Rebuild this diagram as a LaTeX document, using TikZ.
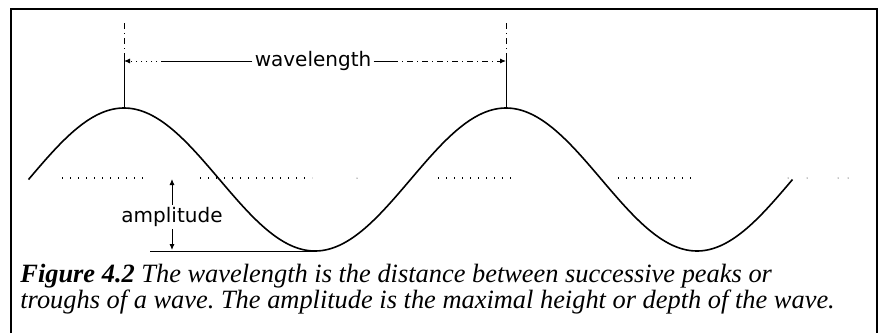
\documentclass[tikz,border=0pt]{standalone}
\usepackage{fontspec}
\setmainfont{Liberation Serif}
\newfontfamily\labelfont{DejaVu Sans}
\usetikzlibrary{arrows.meta}
\tikzset{
  wave/.style={line width=0.8pt},
  tick/.style={line width=0.5pt},
  guide/.style={line width=0.6pt, dash pattern=on 0.6pt off 3.4pt},
  dimtip/.style={-{Latex[length=3pt,width=2.6pt]}, line width=0.5pt},
  lbl/.style={font=\labelfont\fontsize{10}{12}\selectfont, inner sep=1pt},
  caption/.style={font=\itshape\fontsize{13.2}{13}\selectfont\frenchspacing, align=left, inner sep=0pt}
}
\begin{document}
\begin{tikzpicture}[x=0.5pt,y=-0.5pt]
\useasboundingbox (0,0) rectangle (887,333);
% frame, open at the bottom
\draw[line width=1pt] (11,333) -- (11,9) -- (877,9) -- (877,333);

% the wave
\draw[wave] plot[domain=28.5:792.5, samples=160, smooth]
  (\x,{179.5-71.5*sin((\x-28.5)/382*360)});
\coordinate (pk1) at (124,108);
\coordinate (pk2) at (506,108);
\coordinate (tr1) at (315,251);

% dotted rest line
\draw[guide] (62,178) -- (143,178);
\draw[guide] (200,178) -- (312,178);
\draw[guide] (438,178) -- (517,178);
\draw[guide] (618,178) -- (697,178);
\foreach \d in {357,788,807,838,848}
  \fill (\d,178) circle (0.5);

% peak markers
\coordinate (pk1t) at (124,23);
\coordinate (pk2t) at (506,23);
\draw[tick, dash dot] (pk1t) -- (124,57) coordinate (pk1m);
\draw[tick] (pk1m) -- (pk1);
\draw[tick, dash dot] (pk2t) -- (506,57) coordinate (pk2m);
\draw[tick] (pk2m) -- (pk2);

% wavelength
\node[lbl] (wl) at (313,61) {wavelength};
\coordinate (wlL) at (pk1 |- wl);
\coordinate (wlR) at (pk2 |- wl);
\draw[tick] (wl.west) -- (162,61) coordinate (wlLm);
\draw[dimtip, dotted] (wlLm) -- (wlL);
\draw[tick] (wl.east) -- (392,61) coordinate (wlRm);
\draw[dimtip, dash dot] (wlRm) -- (wlR);

% amplitude
\node[lbl] (amp) at (172,217) {amplitude};
\coordinate (ampT) at (172,179);
\coordinate (ampB) at (172,250);
\draw[dimtip] (amp.north -| ampT) -- (ampT);
\draw[dimtip] (amp.south -| ampB) -- (ampB);
\coordinate (base) at (150,251);
\draw[tick] (base) -- (tr1);

% caption
\node[caption, anchor=north west] (cap) at (20,264)
  {\textbf{Figure 4.2} The wavelength is the distance between successive peaks or\\
   troughs of a wave. The amplitude is the maximal height or depth of the wave.};
\end{tikzpicture}
\end{document}
